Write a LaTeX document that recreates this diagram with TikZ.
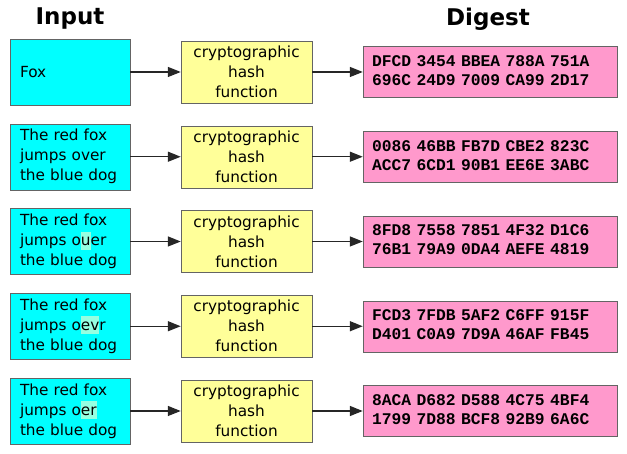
\documentclass[tikz,border=0pt]{standalone}
\usepackage{fontspec}
\setsansfont{DejaVu Sans}
\newfontfamily\hexfont{Liberation Mono}[BoldFont={Liberation Mono Bold}]
\usetikzlibrary{arrows.meta}
\definecolor{incyan}{RGB}{0,255,255}
\definecolor{hashyellow}{RGB}{255,255,153}
\definecolor{digestpink}{RGB}{255,153,204}
\definecolor{hilite}{RGB}{150,255,225}
\definecolor{boxgray}{RGB}{100,100,100}
\newcommand{\chg}[1]{{\setlength{\fboxsep}{0pt}\colorbox{hilite}{\rule[-4pt]{0pt}{18pt}#1}}}
\newcommand{\hexlines}[2]{\begin{tabular}{@{}l@{}}#1\\#2\end{tabular}}
\tikzset{
  inbox/.style={draw=boxgray, fill=incyan, minimum width=120pt, minimum height=66pt,
    text width=100pt, inner xsep=10pt, align=left,
    font=\sffamily\fontsize{15.3}{20}\selectfont},
  hashbox/.style={draw=boxgray, fill=hashyellow, minimum width=131pt, minimum height=62pt,
    align=center, font=\sffamily\fontsize{15.3}{20}\selectfont},
  digestbox/.style={draw=boxgray, fill=digestpink, minimum width=254pt, minimum height=51pt,
    text width=236pt, inner xsep=9pt,
    font=\hexfont\bfseries\fontsize{16.3}{19}\selectfont},
  arrow/.style={draw=black!85, line width=1.3pt, -{Triangle[length=13pt,width=10pt]}},
  title/.style={font=\sffamily\bfseries\fontsize{23}{26}\selectfont}
}
\begin{document}
\begin{tikzpicture}[x=1pt, y=1pt, node distance=84.75pt]
                \useasboundingbox (0,0) rectangle (627,-454);

                \node[title] (intitle) at (70,-19) {Input};
                \node[title] (dtitle) at (488,-19) {Digest};

                % inputs
                \node[inbox] (in1) at (70,-72) {Fox};
                \node[inbox, below of=in1] (in2) {The red fox\\jumps over\\the blue dog};
                \node[inbox, below of=in2] (in3) {The red fox\\jumps o\chg{u}er\\the blue dog};
                \node[inbox, below of=in3] (in4) {The red fox\\jumps o\chg{ev}r\\the blue dog};
                \node[inbox, below of=in4] (in5) {The red fox\\jumps o\chg{er}\\the blue dog};

                % hash functions
                \node[hashbox] (h1) at (246.5,-72) {cryptographic\\hash\\function};
                \node[hashbox, below of=h1] (h2) {cryptographic\\hash\\function};
                \node[hashbox, below of=h2] (h3) {cryptographic\\hash\\function};
                \node[hashbox, below of=h3] (h4) {cryptographic\\hash\\function};
                \node[hashbox, below of=h4] (h5) {cryptographic\\hash\\function};

                % digests
                \node[digestbox] (d1) at (490,-72) {\hexlines{DFCD 3454 BBEA 788A 751A}{696C 24D9 7009 CA99 2D17}};
                \node[digestbox, below of=d1] (d2) {\hexlines{0086 46BB FB7D CBE2 823C}{ACC7 6CD1 90B1 EE6E 3ABC}};
                \node[digestbox, below of=d2] (d3) {\hexlines{8FD8 7558 7851 4F32 D1C6}{76B1 79A9 0DA4 AEFE 4819}};
                \node[digestbox, below of=d3] (d4) {\hexlines{FCD3 7FDB 5AF2 C6FF 915F}{D401 C0A9 7D9A 46AF FB45}};
                \node[digestbox, below of=d4] (d5) {\hexlines{8ACA D682 D588 4C75 4BF4}{1799 7D88 BCF8 92B9 6A6C}};

                \draw[arrow] (in1) -- (h1);
                \draw[arrow] (in2) -- (h2);
                \draw[arrow] (in3) -- (h3);
                \draw[arrow] (in4) -- (h4);
                \draw[arrow] (in5) -- (h5);
                \draw[arrow] (h1) -- (d1);
                \draw[arrow] (h2) -- (d2);
                \draw[arrow] (h3) -- (d3);
                \draw[arrow] (h4) -- (d4);
                \draw[arrow] (h5) -- (d5);
            \end{tikzpicture}
\end{document}
